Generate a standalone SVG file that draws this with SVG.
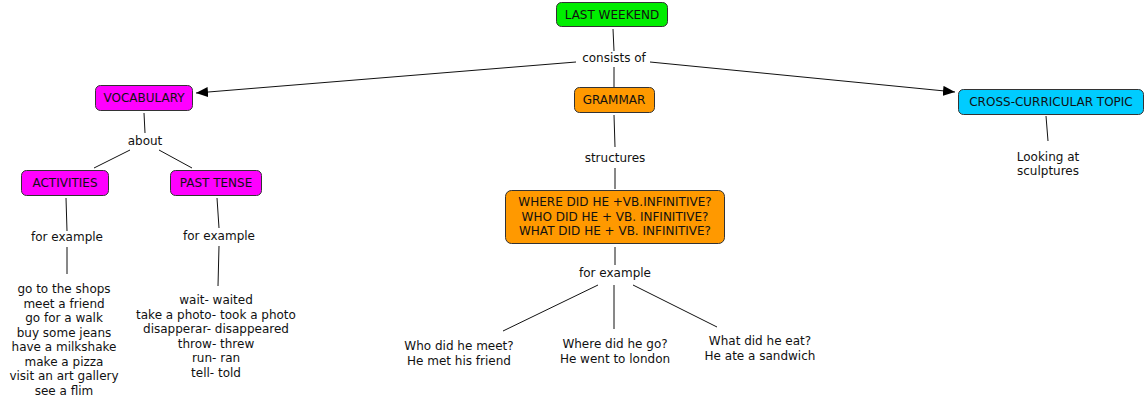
<svg xmlns="http://www.w3.org/2000/svg" width="1145" height="405" viewBox="0 0 1145 405">
<style>
text{font-family:"DejaVu Sans",Verdana,sans-serif;font-size:12px;fill:#111;text-anchor:middle}
.box{stroke:#333;stroke-width:1}
.g{fill:#00ee00}.m{fill:#ff00ff}.o{fill:#ff9900}.c{fill:#00ccff}
.ln{stroke:#111;stroke-width:1;fill:none}
</style>
<defs>
<marker id="arr" viewBox="0 0 12 10" refX="12" refY="5" markerWidth="12" markerHeight="10" markerUnits="userSpaceOnUse" orient="auto">
<path d="M0,0 L12,5 L0,10 Z" fill="#000"/>
</marker>
</defs>
<rect width="1145" height="405" fill="#fff"/>
<g id="connectors">
<line class="ln" x1="613" y1="29" x2="614" y2="51"/>
<line class="ln" x1="576" y1="62" x2="196" y2="93" marker-end="url(#arr)"/>
<line class="ln" x1="650" y1="62" x2="955" y2="92" marker-end="url(#arr)"/>
<line class="ln" x1="614" y1="67" x2="614" y2="87"/>
<line class="ln" x1="144" y1="113" x2="145" y2="133"/>
<line class="ln" x1="130" y1="150" x2="94" y2="168"/>
<line class="ln" x1="159" y1="150" x2="192" y2="168"/>
<line class="ln" x1="66" y1="198" x2="67" y2="231"/>
<line class="ln" x1="67" y1="247" x2="67" y2="274"/>
<line class="ln" x1="217" y1="198" x2="219" y2="228"/>
<line class="ln" x1="219" y1="246" x2="218" y2="286"/>
<line class="ln" x1="614" y1="115" x2="615" y2="147"/>
<line class="ln" x1="615" y1="168" x2="615" y2="189"/>
<line class="ln" x1="615" y1="247" x2="615" y2="265"/>
<line class="ln" x1="598" y1="285" x2="503" y2="331"/>
<line class="ln" x1="614" y1="285" x2="614" y2="329"/>
<line class="ln" x1="633" y1="285" x2="717" y2="327"/>
<line class="ln" x1="1046" y1="116" x2="1048" y2="141"/>
</g>
<g id="last-weekend">
<rect class="box g" x="556.5" y="2.5" width="111" height="24" rx="5"/>
<text x="612" y="19">LAST WEEKEND</text>
</g>
<g id="consists-of"><text x="614" y="62">consists of</text></g>
<g id="vocabulary">
<rect class="box m" x="95.5" y="85.5" width="97" height="25" rx="5"/>
<text x="144" y="102">VOCABULARY</text>
</g>
<g id="grammar">
<rect class="box o" x="574.5" y="87.5" width="80" height="25" rx="5"/>
<text x="614" y="104">GRAMMAR</text>
</g>
<g id="cross-curricular">
<rect class="box c" x="958.5" y="89.5" width="185" height="25" rx="5"/>
<text x="1051" y="106">CROSS-CURRICULAR TOPIC</text>
</g>
<g id="looking-at">
<text x="1048" y="161">Looking at</text>
<text x="1048" y="175">sculptures</text>
</g>
<g id="about"><text x="145" y="145">about</text></g>
<g id="activities">
<rect class="box m" x="21.5" y="170.5" width="87" height="25" rx="5"/>
<text x="65" y="187">ACTIVITIES</text>
</g>
<g id="past-tense">
<rect class="box m" x="170.5" y="170.5" width="91" height="25" rx="5"/>
<text x="216" y="187">PAST TENSE</text>
</g>
<g id="for-example-1"><text x="67" y="241">for example</text></g>
<g id="for-example-2"><text x="219" y="240">for example</text></g>
<g id="activities-list">
<text x="64" y="293">go to the shops</text>
<text x="64" y="307.5">meet a friend</text>
<text x="64" y="322">go for a walk</text>
<text x="64" y="336.5">buy some jeans</text>
<text x="64" y="351">have a milkshake</text>
<text x="64" y="365.5">make a pizza</text>
<text x="64" y="380">visit an art gallery</text>
<text x="64" y="394.5">see a flim</text>
</g>
<g id="past-list">
<text x="216" y="304">wait- waited</text>
<text x="216" y="318.5">take a photo- took a photo</text>
<text x="216" y="333">disapperar- disappeared</text>
<text x="216" y="347.5">throw- threw</text>
<text x="216" y="362">run- ran</text>
<text x="216" y="376.5">tell- told</text>
</g>
<g id="structures"><text x="615" y="162">structures</text></g>
<g id="questions">
<rect class="box o" x="505.5" y="190.5" width="219" height="53" rx="6"/>
<text x="615" y="206">WHERE DID HE +VB.INFINITIVE?</text>
<text x="615" y="220.5">WHO DID HE + VB. INFINITIVE?</text>
<text x="615" y="235">WHAT DID HE + VB. INFINITIVE?</text>
</g>
<g id="for-example-3"><text x="615" y="277">for example</text></g>
<g id="who">
<text x="459" y="350">Who did he meet?</text>
<text x="459" y="364.5">He met his friend</text>
</g>
<g id="where">
<text x="615" y="348">Where did he go?</text>
<text x="615" y="362.5">He went to london</text>
</g>
<g id="what">
<text x="760" y="345">What did he eat?</text>
<text x="760" y="359.5">He ate a sandwich</text>
</g>
</svg>
